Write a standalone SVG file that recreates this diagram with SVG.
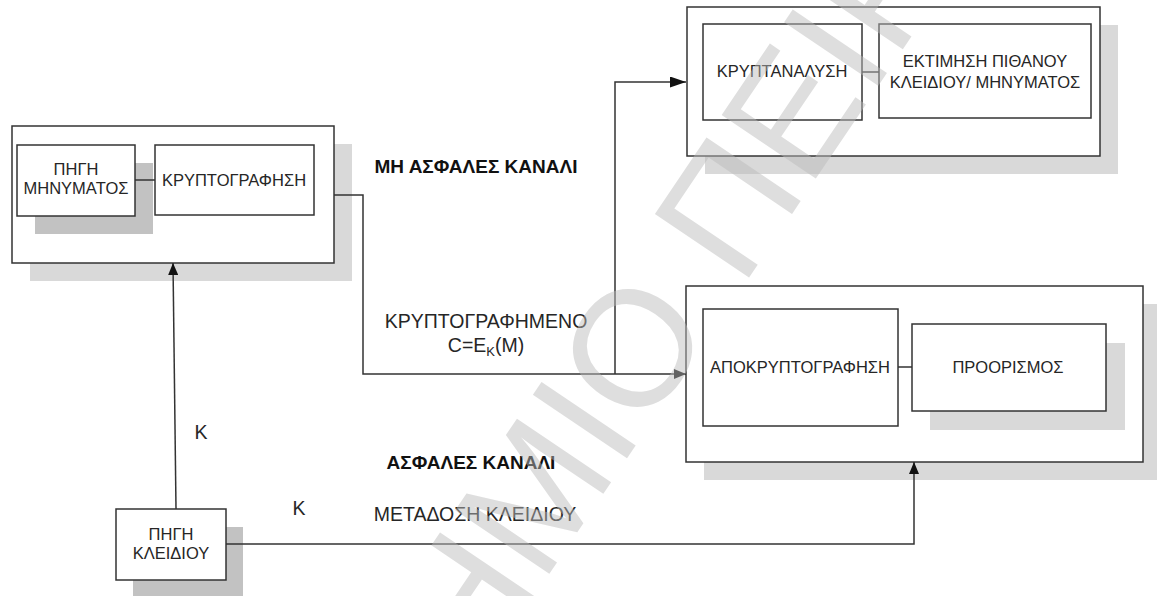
<svg xmlns="http://www.w3.org/2000/svg" width="1157" height="596" viewBox="0 0 1157 596">
<defs>
<style>
.box{fill:#fff;stroke:#333;stroke-width:1.5}
.sh1{fill:#d9d9d9}
.sh2{fill:#c2c2c2}
.t{font-family:"Liberation Sans",Arial,sans-serif;font-size:16.5px;fill:#262626;text-anchor:middle}
.lbl{font-family:"Liberation Sans",Arial,sans-serif;font-size:19.5px;fill:#262626;text-anchor:middle}
.bold{font-family:"Liberation Sans",Arial,sans-serif;font-size:19px;font-weight:bold;fill:#111;text-anchor:middle}
.ln{fill:none;stroke:#333;stroke-width:1.5}
.wm{font-family:"Liberation Sans",Arial,sans-serif;font-size:165px;fill:#bbb;opacity:0.48}
</style>
<marker id="arr" viewBox="0 0 12 10" refX="12" refY="5" markerWidth="12" markerHeight="10" markerUnits="userSpaceOnUse" orient="auto">
<path d="M0,0 L12,5 L0,10 z" fill="#111"/>
</marker>
<marker id="arrL" viewBox="0 0 16 11" refX="16" refY="5.5" markerWidth="16" markerHeight="11" markerUnits="userSpaceOnUse" orient="auto">
<path d="M0,0 L16,5.5 L0,11 z" fill="#111"/>
</marker>
</defs>
<rect width="1157" height="596" fill="#fff"/>

<g id="sender">
<rect class="sh1" x="30" y="144" width="322" height="137"/>
<rect class="box" x="12" y="126" width="322" height="137"/>
<g id="msg-source">
<rect class="sh2" x="35" y="163" width="118" height="71"/>
<rect class="box" x="17" y="145" width="118" height="71"/>
<text class="t" x="76" y="175">ΠΗΓΗ</text>
<text class="t" x="76" y="194">ΜΗΝΥΜΑΤΟΣ</text>
</g>
<g id="encryption">
<rect class="box" x="155" y="145" width="159" height="70"/>
<text class="t" x="234" y="186">ΚΡΥΠΤΟΓΡΑΦΗΣΗ</text>
</g>
<line class="ln" x1="135" y1="180" x2="155" y2="180"/>
</g>

<g id="attacker">
<rect class="sh1" x="705" y="25" width="413" height="149"/>
<rect class="box" x="687" y="7" width="413" height="149"/>
<g id="cryptanalysis">
<rect class="box" x="703" y="24" width="159" height="96"/>
<text class="t" x="782" y="77">ΚΡΥΠΤΑΝΑΛΥΣΗ</text>
</g>
<g id="estimate">
<rect class="box" x="879" y="24" width="212" height="94"/>
<text class="t" x="985" y="67">ΕΚΤΙΜΗΣΗ ΠΙΘΑΝΟΥ</text>
<text class="t" x="985" y="88">ΚΛΕΙΔΙΟΥ/ ΜΗΝΥΜΑΤΟΣ</text>
</g>
<line class="ln" x1="862" y1="72" x2="879" y2="72"/>
</g>

<g id="receiver">
<rect class="sh1" x="704" y="304" width="457" height="176"/>
<rect class="box" x="686" y="286" width="457" height="176"/>
<g id="decryption">
<rect class="box" x="703" y="309" width="195" height="117"/>
<text class="t" x="800" y="373">ΑΠΟΚΡΥΠΤΟΓΡΑΦΗΣΗ</text>
</g>
<g id="destination">
<rect class="sh1" x="930" y="343" width="195" height="87"/>
<rect class="box" x="912" y="324" width="194" height="87"/>
<text class="t" x="1008" y="373">ΠΡΟΟΡΙΣΜΟΣ</text>
</g>
<line class="ln" x1="898" y1="367" x2="912" y2="367"/>
</g>

<g id="key-source">
<rect class="sh2" x="133" y="527" width="110" height="80"/>
<rect class="box" x="116" y="509" width="110" height="71"/>
<text class="t" x="171" y="540">ΠΗΓΗ</text>
<text class="t" x="171" y="559">ΚΛΕΙΔΙΟΥ</text>
</g>

<g id="connectors">
<polyline class="ln" points="334,195 363,195 363,374 686,374" marker-end="url(#arr)"/>
<polyline class="ln" points="615,374 615,82 686,82" marker-end="url(#arrL)"/>
<line class="ln" x1="176" y1="509" x2="173" y2="263" marker-end="url(#arr)"/>
<polyline class="ln" points="226,544 914,544 914,462" marker-end="url(#arr)"/>
</g>

<g id="labels">
<text class="bold" x="476" y="173" font-size="20">ΜΗ ΑΣΦΑΛΕΣ ΚΑΝΑΛΙ</text>
<text class="lbl" x="486" y="328" font-size="20.3">ΚΡΥΠΤΟΓΡΑΦΗΜΕΝΟ</text>
<text class="lbl" x="486" y="352">C=E<tspan font-size="13" dy="4">K</tspan><tspan dy="-4">(M)</tspan></text>
<text class="lbl" x="201" y="439">K</text>
<text class="bold" x="471" y="469">ΑΣΦΑΛΕΣ ΚΑΝΑΛΙ</text>
<text class="lbl" x="299" y="515">K</text>
<text class="lbl" x="475" y="521">ΜΕΤΑΔΟΣΗ ΚΛΕΙΔΙΟΥ</text>
</g>

<g id="watermark" transform="translate(631,347) rotate(-56)">
<text class="wm" y="59"><tspan x="-64" text-anchor="end">ΠΑΝΕΠΙΣΤΗΜΙ</tspan><tspan x="-64" text-anchor="start">Ο ΠΕΙΡΑΙΩΣ</tspan></text>
</g>
</svg>
